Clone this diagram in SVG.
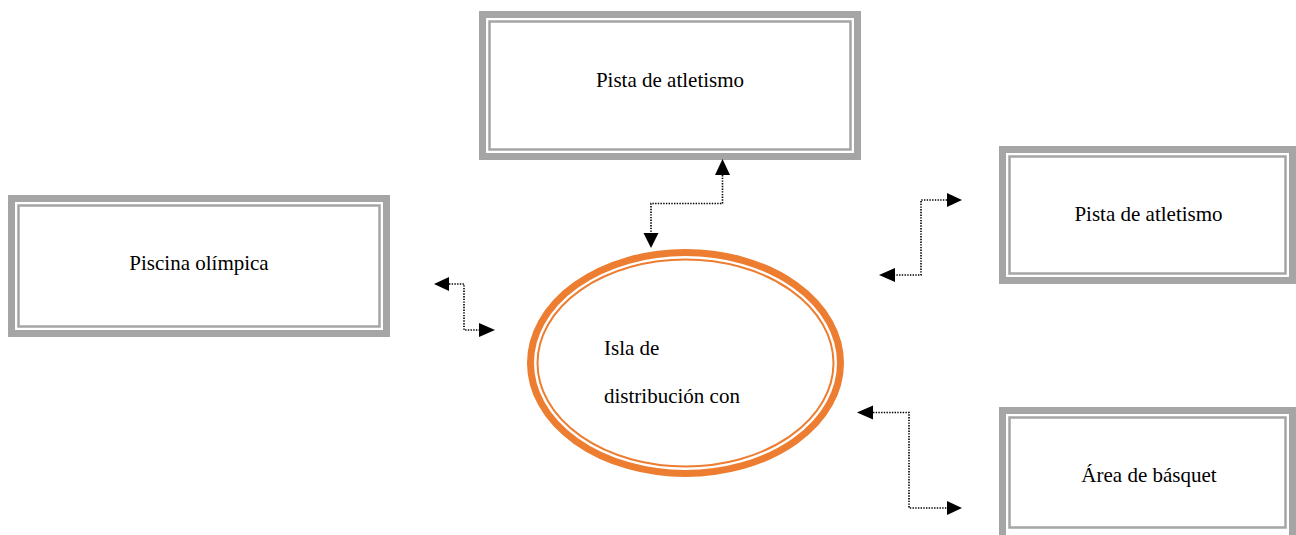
<svg xmlns="http://www.w3.org/2000/svg" width="1296" height="535" viewBox="0 0 1296 535">
<defs>
<style>
.outer{fill:#ffffff;stroke:#a5a5a5;stroke-width:7}
.inner{fill:none;stroke:#a5a5a5;stroke-width:2.5}
.lbl{font-family:"Liberation Serif","Times New Roman",serif;font-size:21px;fill:#000000}
.con{fill:none;stroke:#000000;stroke-width:1.6;stroke-dasharray:1.4 1.3}
.head{fill:#000000}
.ell1{fill:#ffffff;stroke:#ed7d31;stroke-width:7}
.ell2{fill:none;stroke:#ed7d31;stroke-width:2}
</style>
</defs>
<rect width="1296" height="535" fill="#ffffff"/>
<g id="node-top">
<rect class="outer" x="482.5" y="14.5" width="375" height="142"/>
<rect class="inner" x="489.5" y="21.5" width="361" height="128"/>
<text class="lbl" x="670" y="87" text-anchor="middle">Pista de atletismo</text>
</g>
<g id="node-piscina">
<rect class="outer" x="11.5" y="198.5" width="375" height="135"/>
<rect class="inner" x="18.5" y="205.5" width="361" height="121"/>
<text class="lbl" x="199" y="270" text-anchor="middle">Piscina olímpica</text>
</g>
<g id="node-right-top">
<rect class="outer" x="1002.5" y="149.5" width="290" height="131"/>
<rect class="inner" x="1009.5" y="156.5" width="276" height="117"/>
<text class="lbl" x="1148.5" y="221" text-anchor="middle">Pista de atletismo</text>
</g>
<g id="node-right-bottom">
<rect class="outer" x="1002.5" y="410.5" width="290" height="130"/>
<rect class="inner" x="1009.5" y="417.5" width="276" height="110"/>
<text class="lbl" x="1149" y="482" text-anchor="middle">Área de básquet</text>
</g>
<g id="node-isla">
<ellipse class="ell1" cx="685.5" cy="363" rx="155" ry="110.5"/>
<ellipse class="ell2" cx="685.5" cy="363" rx="148" ry="103.5"/>
<text class="lbl" x="604" y="355">Isla de</text>
<text class="lbl" x="604" y="403">distribución con</text>
</g>
<g id="connectors">
<path class="con" d="M722.5 175 V203.5 H651 V233"/>
<polygon class="head" points="722.5,159 715,175 730,175"/>
<polygon class="head" points="651,248 643.5,233 658.5,233"/>
<path class="con" d="M449 284 H464 V330 H479"/>
<polygon class="head" points="434,284 449,277 449,291"/>
<polygon class="head" points="495,330 479,323 479,337"/>
<path class="con" d="M947 200 H921 V275 H895"/>
<polygon class="head" points="962,200 947,193 947,207"/>
<polygon class="head" points="879,275 895,268 895,282"/>
<path class="con" d="M873 412.5 H909 V508 H947"/>
<polygon class="head" points="857,412.5 873,405.5 873,419.5"/>
<polygon class="head" points="962,508 947,501 947,515"/>
</g>
</svg>
